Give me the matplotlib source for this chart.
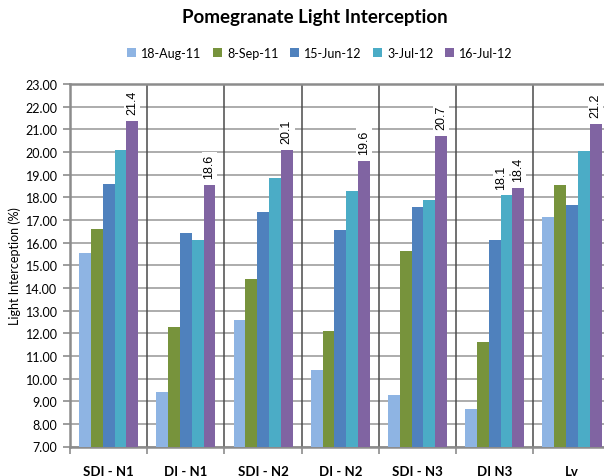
import matplotlib
matplotlib.use("Agg")
import matplotlib.pyplot as plt
import numpy as np

plt.rcParams['font.family'] = ['Lato', 'DejaVu Sans']

categories = ["SDI - N1", "DI - N1", "SDI - N2", "DI - N2", "SDI - N3", "DI N3", "Lv"]
series_names = ["18-Aug-11", "8-Sep-11", "15-Jun-12", "3-Jul-12", "16-Jul-12"]
aug11 = [15.54, 9.41, 12.58, 10.38, 9.27, 8.65, 17.13]
sep11 = [16.60, 12.27, 14.39, 12.10, 15.63, 11.61, 18.54]
jun12 = [18.58, 16.42, 17.35, 16.55, 17.58, 16.11, 17.66]
jul03 = [20.08, 16.11, 18.85, 18.27, 17.88, 18.08, 20.04]
jul16 = [21.36, 18.56, 20.08, 19.60, 20.70, 18.42, 21.23]
colors = ["#8EB4E3", "#77933C", "#4F81BD", "#4BACC6", "#8064A2"]
yticks = np.arange(7, 23.01, 1)

series = [aug11, sep11, jun12, jul03, jul16]

fig = plt.figure(figsize=(6.04, 4.77), dpi=100)
ax = fig.add_axes([70/604, 1-447.5/477, (610.6-70)/604, (447.5-85)/477])

n = len(categories)
x = np.arange(n)
bw = 0.153
offsets = (np.arange(5) - 2) * bw
for vals, off, c, name in zip(series, offsets, colors, series_names):
    ax.bar(x + off, np.array(vals) - 7, bottom=7, width=bw, color=c, label=name, zorder=3, linewidth=0)

ax.set_ylim(7, 23)
ax.set_xlim(-0.5, n - 0.5)
ax.set_yticks(yticks)
ax.set_yticklabels([f"{v:.2f}" for v in yticks], fontsize=9)
ax.yaxis.grid(True, color="#a6a6a6", linewidth=1.3, zorder=1)
ax.set_axisbelow(True)

for k in range(1, n):
    ax.axvline(k - 0.5, color="#4a4a4a", linewidth=1.1, zorder=1)

ax.set_xticks(np.arange(n + 1) - 0.5, minor=False)
ax.set_xticklabels([])
ax.set_xticks(x, minor=True)
ax.set_xticklabels(categories, minor=True, fontsize=9.5, fontweight='bold')
ax.tick_params(axis='x', which='minor', length=0, pad=13.5)
ax.tick_params(axis='x', which='major', length=5, color="#8c8c8c", width=1.2)
ax.tick_params(axis='y', length=5, color="#8c8c8c", width=1.2, pad=4)

for s in ['left', 'bottom', 'top']:
    ax.spines[s].set_color("#8c8c8c")
    ax.spines[s].set_linewidth(1.8)
ax.spines['right'].set_visible(False)

ax.set_ylabel("Light Interception (%)", fontsize=9, labelpad=3)

labels = [(4, i, 0) for i in range(n)] + [(3, 5, -4)]
for si, ci, dx in labels:
    v = series[si][ci]
    ax.annotate(f"{v:.1f}", xy=(ci + offsets[si], v), xytext=(dx, 5), textcoords="offset points",
                rotation=90, ha='center', va='bottom', fontsize=9, zorder=4,
                family=['Liberation Sans', 'DejaVu Sans'],
                bbox=dict(boxstyle='square,pad=0.15', fc='white', ec='none'))

fig.text(315/604, 1-18/477, "Pomegranate Light Interception", ha='center', va='center',
         fontsize=13.5, fontweight='bold')
fig.legend(loc='center', bbox_to_anchor=(320/604, 1-54/477), ncol=5, frameon=False,
           fontsize=9, handlelength=0.7, handleheight=0.7, handletextpad=0.4, columnspacing=0.95)

fig.savefig("out.png", dpi=100)
